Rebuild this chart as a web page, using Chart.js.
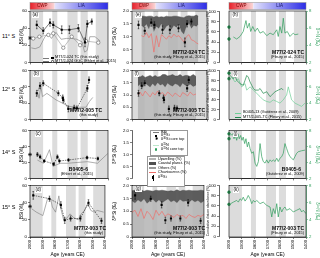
<!DOCTYPE html>
<html>
<head>
<meta charset="utf-8">
<script src="https://cdn.jsdelivr.net/npm/chart.js@4.4.0/dist/chart.umd.min.js"></script>
<style>
body{margin:0;background:#fff}
#fig{position:relative;width:320px;height:258px;overflow:hidden;background:#fff}
.t{position:absolute;white-space:nowrap;font-family:"Liberation Sans",Arial,sans-serif;line-height:1;color:#000}
.st{font-weight:bold;font-size:5px}
.ci{font-size:3.8px}
.tag{font-size:4.5px;background:#fff;padding:0 0.5px}
.row{font-size:5.5px}
.lg{position:absolute;border:0.5px solid #999;background:#fff}
.sw{position:absolute}
</style>
</head>
<body>
<div id="fig"></div>
<script>
// ---- shared ----
const solarMinima = [[1899,2000],[1790,1829],[1634,1712],[1556,1611],[1400,1494]]
const cwpStart = 1810

// ---- 11 S : M77/2-024 ----
const ageTC024 = [1948,1898,1846,1821,1756,1697,1628,1577,1559,1525]
const d30TC024 = [1.46,1.23,1.55,1.46,1.27,1.27,1.33,0.78,1.5,1.59]
const d30TC024Err = [0.15,0.12,0.14,0.12,0.15,0.15,0.14,0.17,0.12,0.1]
const ageGGC024 = [1975,1928,1859,1821,1744,1679,1615,1569,1475]
const d30GGC024 = [0.93,1.0,1.07,1.13,0.57,1.0,0.67,0.83,0.77]
const ageBsi024 = [1990,1960,1925,1885,1860,1835,1800,1760,1720,1680,1640,1600,1580,1560,1540,1500,1460]
const bsi024 = [17,16,18,30,33,28,35,27,28,28,27,24,12,14,30,30,25]
const coreTopD30_024 = [0.95]
const ageAss024 = [1925,1905,1885,1865,1845,1825,1805,1785,1765,1745,1725,1705,1685,1665,1645,1625,1605,1585,1565,1545,1525,1505,1485,1470]
const upw024 = [72,68,74,65,78,60,70,66,75,62,70,73,64,72,68,74,60,55,70,76,66,72,70,74]
const coast024 = [18,22,15,25,12,28,20,22,14,26,20,16,25,18,22,15,28,32,20,15,24,18,22,16]
const chaet024 = [52,50,58,48,56,20,52,30,54,50,45,52,48,55,50,52,46,40,50,54,44,42,38,36]
const ageN024 = [1966,1940,1914,1889,1868,1857,1842,1831,1815,1797,1779,1758,1733,1706,1680,1655,1628,1616,1603,1589,1577,1564,1546,1525,1499,1486,1460]
const d15N024 = [4.97,4.73,5.03,5.61,6.88,6.0,6.58,5.61,6.19,5.61,6.0,5.42,5.61,5.12,5.42,5.23,5.81,5.03,6.19,5.42,7.16,5.42,5.61,5.03,5.42,5.23,5.31]
const coreTopN024 = [6.12,4.73]

// ---- 12 S : M77/2-005 / B0405-13 ----
const ageTC005 = [1948,1923,1898,1782,1748,1744,1705,1660,1640,1559,1546]
const d30TC005 = [1.07,1.38,1.48,1.07,0.88,0.8,0.43,0.48,0.45,1.27,1.62]
const d30TC005Err = [0.12,0.12,0.1,0.1,0.12,0.12,0.12,0.1,0.1,0.12,0.12]
const ageBsi005 = [1953,1940,1930,1917,1904,1870,1800,1701,1640,1569,1543,1517]
const bsi005 = [28,32,26,41,28,32,24,16,15,15,22,27]
const ageAss005 = [1953,1935,1915,1895,1875,1855,1835,1815,1795,1775,1755,1735,1715,1695,1675,1655,1635,1615,1595,1575,1555,1535,1510,1488]
const upw005 = [68,72,65,74,70,66,73,68,75,70,72,66,74,70,68,73,71,66,74,70,68,72,67,70]
const coast005 = [20,15,25,12,18,24,14,22,12,18,20,26,15,20,24,16,18,26,14,20,22,16,25,18]
const chaet005 = [50,56,48,58,52,46,55,50,58,52,55,48,56,52,47,54,50,46,55,52,48,56,50,52]
const ageN005 = [1992,1966,1953,1940,1914,1889,1875,1862,1850,1836,1823,1810,1797,1771,1758,1733,1706,1680,1667,1641,1616,1589,1577]
const d15N005 = [7.4,7.0,7.4,6.8,6.4,6.2,6.8,7.4,7.2,6.6,6.2,5.8,5.6,5.6,5.8,5.2,5.4,4.8,5.0,5.4,5.6,5.8,5.6]
const ageN13 = [1979,1953,1927,1901,1875,1862,1836,1810,1784,1758,1733,1706,1680,1655,1628,1603,1577,1551,1538,1525,1512,1486,1460,1434,1408]
const d15N13 = [7.2,6.6,7.0,6.0,6.4,5.6,6.0,5.6,5.2,4.8,4.4,4.2,4.1,4.4,4.2,4.0,4.4,5.0,6.0,5.2,4.4,4.0,3.8,3.6,4.0]
const coreTopN005 = [7.68,7.0]

// ---- 14 S : B0405-6 ----
const ageB6 = [1943,1922,1891,1818,1789,1774,1704,1561,1478]
const d30B6 = [1.0,0.9,0.73,0.6,0.9,0.73,0.77,0.87,0.83]
const d30B6Err = [0.08,0.08,0.06,0.06,0.08,0.08,0.06,0.06,0.06]
const ageBsiB6 = [1943,1896,1850,1823,1797,1766,1714,1636,1558,1481,1403]
const bsiB6 = [23,19,36,15,17,19,19,20,21,19,31]
const coreTopD30_B6 = [1.0]
const ageN6 = [1987,1971,1961,1951,1940,1930,1920,1909,1899,1889,1878,1868,1857,1847,1836,1823,1810,1797,1784,1771,1758,1745,1733,1719,1706,1694,1680,1667,1655,1641,1628,1616,1603,1589,1577,1564,1551,1538,1525,1512,1499,1486,1473,1460,1434,1408]
const d15N6 = [7.39,7.59,6.98,7.39,6.78,7.59,6.98,7.39,6.78,7.18,6.37,6.98,5.96,6.57,5.76,5.15,5.35,3.92,3.51,4.12,6.37,4.73,4.12,3.92,4.33,3.92,4.33,4.12,4.33,4.12,4.53,4.12,4.53,4.73,5.15,6.37,5.76,5.15,4.73,4.53,4.33,4.73,5.15,5.35,5.47,5.55]
const coreTopN6 = [7.59,6.98]

// ---- 15 S : M77/2-003 ----
const ageTC003 = [1974,1844,1753,1722,1675,1597,1532,1428]
const d30TC003 = [1.62,1.49,1.25,0.65,0.72,0.72,1.33,0.63]
const d30TC003Err = [0.15,0.1,0.12,0.12,0.1,0.1,0.12,0.1]
const ageBsi003 = [1987,1949,1923,1897,1859,1833,1821,1795,1769,1756,1731,1705,1679,1654,1615,1590,1564,1538,1513,1487,1462,1410]
const bsi003 = [33,29,27,25,45,43,35,29,48,35,20,22,27,23,20,27,31,39,31,29,31,29]
const coreTopD30_003 = [1.19]
const ageAss003 = [2000,1975,1950,1925,1900,1875,1850,1825,1800,1775,1750,1725,1700,1675,1650,1625,1600,1575,1550,1525,1500,1475,1450,1425,1400]
const upw003 = [70,66,72,68,74,65,70,73,67,72,66,70,74,68,71,66,73,69,70,67,72,68,71,66,70]
const coast003 = [20,25,18,24,15,26,20,16,24,18,25,20,15,22,18,26,16,22,20,24,18,22,19,25,20]
const chaet003 = [48,52,40,55,36,50,44,34,52,42,50,40,45,42,38,44,40,42,36,44,40,38,42,40,44]
const ageN003 = [1987,1966,1940,1927,1914,1901,1889,1875,1862,1850,1836,1823,1810,1797,1784,1758,1733,1706,1680,1667,1655,1641,1628,1616,1603,1589,1577,1564,1551,1525,1499,1473,1447,1434,1421,1400]
const d15N003 = [5.89,6.07,6.27,6.07,6.46,6.27,6.65,6.19,6.46,6.85,6.46,5.89,6.27,6.07,6.27,5.89,6.07,5.69,5.5,4.34,5.31,4.73,5.89,4.34,5.5,4.92,5.31,5.5,5.12,5.31,4.92,5.12,5.31,4.92,5.12,4.73]
const coreTopN003 = [7.23,5.81]

// ---- layout ----
const FONT = '"Liberation Sans", Arial, sans-serif'
const GREEN = '#2e9e5b'
const colX = [[30,108],[132,207],[229,306]]
const rowY = [[11,63],[70,120],[130,179],[185,237]]
const fig = document.getElementById('fig')

Chart.defaults.font.family = FONT
Chart.defaults.font.size = 4.5
Chart.defaults.color = '#000'

const pts = (xs, ys) => xs.map((x, i) => ({x: x, y: ys[i]}))
const sum = (a, b) => a.map((v, i) => v + b[i])
const at = (year, ys) => ys.map(v => ({x: year, y: v}))

const deco = {
    id: 'deco',
    beforeDatasetsDraw(chart, args, o) {
        if (!o.bands) return
        const ctx = chart.ctx, a = chart.chartArea, x = chart.scales.x
        ctx.save()
        ctx.fillStyle = '#dcdcdc'
        o.bands.forEach(b => {
            const p0 = x.getPixelForValue(b[0]), p1 = x.getPixelForValue(b[1])
            ctx.fillRect(Math.min(p0, p1), a.top, Math.abs(p1 - p0), a.bottom - a.top)
        })
        ctx.restore()
    },
    afterDatasetsDraw(chart, args, o) {
        const ctx = chart.ctx, a = chart.chartArea
        ctx.save()
        chart.data.datasets.forEach((ds, i) => {
            if (!ds.errors) return
            const meta = chart.getDatasetMeta(i)
            const ys = chart.scales[ds.yAxisID || 'y']
            ctx.strokeStyle = ds.errColor || '#000'
            ctx.lineWidth = 0.5
            meta.data.forEach((p, j) => {
                const v = ds.data[j].y, e = ds.errors[j]
                const y0 = ys.getPixelForValue(v - e), y1 = ys.getPixelForValue(v + e)
                ctx.beginPath()
                ctx.moveTo(p.x, y0); ctx.lineTo(p.x, y1)
                ctx.moveTo(p.x - 0.8, y0); ctx.lineTo(p.x + 0.8, y0)
                ctx.moveTo(p.x - 0.8, y1); ctx.lineTo(p.x + 0.8, y1)
                ctx.stroke()
            })
        })
        if (o.frame) {
            ctx.strokeStyle = '#000'
            ctx.lineWidth = 0.6
            ctx.strokeRect(a.left, a.top, a.right - a.left, a.bottom - a.top)
        }
        ctx.restore()
    },
    afterDraw(chart, args, o) {
        if (!o.topBar) return
        const ctx = chart.ctx, a = chart.chartArea
        const xs = chart.scales.x.getPixelForValue(o.topBar)
        const y0 = a.top - 8.4, h = 7
        ctx.save()
        let g = ctx.createLinearGradient(a.left, 0, xs, 0)
        g.addColorStop(0, '#e8202a'); g.addColorStop(1, '#fbd8d8')
        ctx.fillStyle = g
        ctx.fillRect(a.left, y0, xs - a.left, h)
        g = ctx.createLinearGradient(xs, 0, a.right, 0)
        g.addColorStop(0, '#e4e4fc'); g.addColorStop(1, '#2c2ce6')
        ctx.fillStyle = g
        ctx.fillRect(xs, y0, a.right - xs, h)
        ctx.strokeStyle = '#888'; ctx.lineWidth = 0.5
        ctx.strokeRect(a.left, y0, a.right - a.left, h)
        ctx.font = '4.5px ' + FONT
        ctx.textAlign = 'center'; ctx.textBaseline = 'middle'
        ctx.fillStyle = '#7a0000'
        ctx.fillText('CWP', (a.left + xs) / 2, y0 + h / 2)
        ctx.fillStyle = '#141460'
        ctx.fillText('LIA', (xs + a.right) / 2, y0 + h / 2)
        ctx.restore()
    }
}
Chart.register(deco)

function xAxis(bottom, hb) {
    return {
        type: 'linear', min: 1400, max: 2000, reverse: true,
        ticks: {stepSize: 100, display: bottom, maxRotation: 90, minRotation: 90, padding: 1,
            font: {size: 4.2}, callback: v => String(v)},
        grid: {drawOnChartArea: false, tickLength: 2, color: '#000', lineWidth: 0.5},
        border: {color: '#000', width: 0.6},
        title: {display: bottom, text: 'Age (years CE)', font: {size: 5}, padding: {top: 1, bottom: 0}},
        afterFit: s => { s.height = hb }
    }
}

function yAxis(pos, min, max, step, title, w, color, tsize) {
    return {
        position: pos, min: min, max: max,
        ticks: {stepSize: step, padding: 1, color: color || '#000', font: {size: 4.3},
            callback: v => (step < 1 && v !== 0) ? v.toFixed(1) : String(v)},
        grid: {drawOnChartArea: false, tickLength: 2, color: color || '#000', lineWidth: 0.5},
        border: {color: color || '#000', width: 0.6},
        title: {display: true, text: title, color: color || '#000', font: {size: tsize || 4.5}, padding: {top: 0, bottom: 1}},
        afterFit: s => { s.width = w }
    }
}

function hidden(min, max) {
    return {display: false, min: min, max: max}
}

function panel(cx, ry, sp, scales, datasets, deco) {
    const l = cx[0], r = cx[1], t = ry[0], b = ry[1]
    const left = l - sp.wl, top = t - sp.pt
    const w = sp.wl + (r - l) + sp.wr, h = sp.pt + (b - t) + sp.hb
    const cv = document.createElement('canvas')
    cv.width = w; cv.height = h
    cv.style.cssText = 'position:absolute;left:' + left + 'px;top:' + top + 'px;width:' + w + 'px;height:' + h + 'px'
    fig.appendChild(cv)
    return new Chart(cv, {
        type: 'line',
        data: {datasets: datasets},
        options: {
            responsive: false, animation: false, events: [],
            layout: {autoPadding: false, padding: {left: sp.padL || 0, right: sp.padR || 0, top: sp.pt, bottom: sp.padB || 0}},
            scales: scales,
            plugins: {legend: {display: false}, tooltip: {enabled: false}, deco: deco}
        }
    })
}

function squares(ages, vals, errs, dashed) {
    return {data: pts(ages, vals), yAxisID: 'ys', errors: errs, showLine: true,
        borderColor: '#222', borderWidth: 0.6, borderDash: dashed ? [1.5, 1] : [],
        pointStyle: 'rect', pointRadius: 1.5, pointBackgroundColor: '#000', pointBorderColor: '#000', pointBorderWidth: 0}
}
function bsiLine(ages, vals) {
    return {data: pts(ages, vals), yAxisID: 'y', borderColor: '#7a7a7a', borderWidth: 0.6, pointRadius: 0}
}
function coreTop(vals, axis, color) {
    return {data: at(2000, vals), yAxisID: axis, showLine: false, clip: false,
        pointStyle: axis === 'ys' ? 'star' : 'circle', pointRadius: axis === 'ys' ? 2 : 1.4,
        pointBackgroundColor: color, pointBorderColor: color, pointBorderWidth: 0.6}
}
function assemblage(ages, upw, coast, chaet, d30ages, d30, d30err) {
    return [
        {data: pts(d30ages, d30), yAxisID: 'y', errors: d30err, showLine: false,
            pointStyle: 'rect', pointRadius: 1.5, pointBackgroundColor: '#000', pointBorderWidth: 0},
        {data: pts(ages, chaet), yAxisID: 'yc', borderColor: '#ef6f6a', borderWidth: 0.7, pointRadius: 0},
        {data: pts(ages, sum(upw, coast)), yAxisID: 'yc', fill: 3, backgroundColor: 'rgba(80,80,80,0.92)',
            borderColor: '#3c3c3c', borderWidth: 0.4, pointRadius: 0},
        {data: pts(ages, upw), yAxisID: 'yc', fill: 'origin', backgroundColor: 'rgba(180,180,180,0.85)',
            borderColor: '#8a8a8a', borderWidth: 0.3, pointRadius: 0}
    ]
}
function greenLine(ages, vals, color) {
    return {data: pts(ages, vals), yAxisID: 'yn', borderColor: color || GREEN, borderWidth: 0.7, pointRadius: 0}
}

const spC1 = r => ({wl: 11, wr: 3, pt: r === 0 ? 11 : 3, hb: r === 3 ? 21 : 3, padR: 3})
const spC2 = r => ({wl: 20, wr: 3, pt: r === 0 ? 11 : 3, hb: r === 3 ? 21 : 3, padR: 3})
const spC3 = r => ({wl: 4, wr: 14, pt: r === 0 ? 11 : 3, hb: r === 3 ? 21 : 3, padL: 4})

// ---- column 1 : BSi and d30Si ----
const c1Data = [
    [squares(ageTC024, d30TC024, d30TC024Err, false),
     {data: pts(ageGGC024, d30GGC024), yAxisID: 'ys', showLine: true, borderColor: '#9a9a9a', borderWidth: 0.6,
      pointStyle: 'circle', pointRadius: 1.7, pointBackgroundColor: '#fff', pointBorderColor: '#444', pointBorderWidth: 0.5},
     bsiLine(ageBsi024, bsi024), coreTop(coreTopD30_024, 'ys', '#000')],
    [squares(ageTC005, d30TC005, d30TC005Err, true), bsiLine(ageBsi005, bsi005)],
    [squares(ageB6, d30B6, d30B6Err, true), bsiLine(ageBsiB6, bsiB6), coreTop(coreTopD30_B6, 'ys', '#000')],
    [squares(ageTC003, d30TC003, d30TC003Err, true), bsiLine(ageBsi003, bsi003), coreTop(coreTopD30_003, 'ys', '#000')]
]
c1Data.forEach((ds, r) => {
    panel(colX[0], rowY[r], spC1(r),
        {x: xAxis(r === 3, spC1(r).hb), y: yAxis('left', 0, 60, 20, 'BSi (%)', 11), ys: hidden(0, 2)},
        ds, {bands: solarMinima, frame: true, topBar: r === 0 ? cwpStart : null})
})

// ---- column 2 : d30Si and diatom assemblages ----
const c2Data = [
    assemblage(ageAss024, upw024, coast024, chaet024, ageTC024, d30TC024, d30TC024Err),
    assemblage(ageAss005, upw005, coast005, chaet005, ageTC005, d30TC005, d30TC005Err),
    null,
    assemblage(ageAss003, upw003, coast003, chaet003, ageTC003, d30TC003, d30TC003Err)
]
c2Data.forEach((ds, r) => {
    if (ds) {
        panel(colX[1], rowY[r], spC2(r),
            {x: xAxis(r === 3, spC2(r).hb), y: yAxis('left', 0, 2, 0.5, 'δ³⁰Si (‰)', 20), yc: hidden(0, 100)},
            ds, {bands: solarMinima, frame: true, topBar: r === 0 ? cwpStart : null})
        // cumulative abundance axis standing between columns 2 and 3
        panel([219, 221], rowY[r], {wl: 13, wr: 1, pt: 3, hb: 3, padR: 1, padB: 3},
            {x: hidden(1400, 2000), y: yAxis('left', 0, 100, 20, 'Cumulative diatom abundance (%)', 13, '#000', 3.3)},
            [], {})
    } else {
        panel([132, 134], rowY[r], {wl: 20, wr: 1, pt: 3, hb: 3, padR: 1, padB: 3},
            {x: hidden(1400, 2000), y: yAxis('left', 0, 2, 0.5, 'δ³⁰Si (‰)', 20)},
            [], {})
    }
})

// ---- column 3 : d15N ----
const c3Data = [
    [greenLine(ageN024, d15N024), coreTop(coreTopN024, 'yn', GREEN)],
    [greenLine(ageN005, d15N005, '#1f8a4c'), greenLine(ageN13, d15N13, '#6fcf97'), coreTop(coreTopN005, 'yn', GREEN)],
    [greenLine(ageN6, d15N6), coreTop(coreTopN6, 'yn', GREEN)],
    [greenLine(ageN003, d15N003), coreTop(coreTopN003, 'yn', GREEN)]
]
c3Data.forEach((ds, r) => {
    panel(colX[2], rowY[r], spC3(r),
        {x: xAxis(r === 3, spC3(r).hb), yn: yAxis('right', 2, 8, 2, 'δ¹⁵N (‰)', 14, GREEN)},
        ds, {bands: solarMinima, frame: true, topBar: r === 0 ? cwpStart : null})
})

// ---- text ----
function txt(s, x, y, cls, right) {
    const d = document.createElement('div')
    d.className = 't ' + (cls || '')
    d.innerHTML = s
    if (right) d.style.right = (320 - x) + 'px'
    else d.style.left = x + 'px'
    d.style.top = y + 'px'
    fig.appendChild(d)
    return d
}
function box(x, y, w, h, css) {
    const d = document.createElement('div')
    d.className = 'sw'
    d.style.cssText = 'position:absolute;left:' + x + 'px;top:' + y + 'px;width:' + w + 'px;height:' + h + 'px;' + (css || '')
    fig.appendChild(d)
    return d
}

txt('11° S', 2, 34, 'row'); txt('12° S', 2, 87, 'row'); txt('14° S', 2, 150, 'row'); txt('15° S', 2, 205, 'row')

const tags = [['(a)',32,13],['(e)',135,13],['(h)',232,13],['(b)',33,72],['(f)',134,72],['(i)',233,72],
    ['(c)',35,132],['(j)',233,132],['(d)',35,188],['(g)',135,187],['(k)',233,188]]
tags.forEach(t => txt(t[0], t[1], t[2], 'tag'))

const sup = (a, b) => 'δ<sup style="font-size:70%;vertical-align:0.25em">' + a + '</sup>' + b
txt('M77/2-024 TC', 205, 50, 'st', true); txt('(this study, Fleury et al., 2015)', 205, 56, 'ci', true)
txt('M77/2-024 TC', 304, 50, 'st', true); txt('(Fleury et al., 2015)', 304, 56, 'ci', true)
txt('M77/2-005 TC', 102, 108, 'st', true); txt('(this study)', 98, 114, 'ci', true)
txt('M77/2-005 TC', 205, 108, 'st', true); txt('(this study, Fleury et al., 2015)', 205, 114, 'ci', true)
txt('B0405-6', 88, 167, 'st', true); txt('(Ehlert et al., 2015)', 93, 173, 'ci', true)
txt('B0405-6', 301, 167, 'st', true); txt('(Gutiérrez et al., 2009)', 304, 173, 'ci', true)
txt('M77/2-003 TC', 106, 226, 'st', true); txt('(this study)', 103, 232, 'ci', true)
txt('M77/2-003 TC', 205, 226, 'st', true); txt('(this study, Fleury et al., 2015)', 205, 232, 'ci', true)
txt('M77/2-003 TC', 304, 226, 'st', true); txt('(Fleury et al., 2015)', 304, 232, 'ci', true)

// legend in (a)
box(43, 57.5, 6, 0.6, 'background:#7a7a7a')
box(51, 56.6, 2.6, 2.6, 'background:#000')
txt('M77/2-024 TC (this study)', 55, 56, 'ci')
box(43, 61.2, 6, 0, 'border-top:0.6px dashed #777')
box(51, 60, 2.6, 2.6, 'border:0.5px solid #444;border-radius:50%;background:#fff;box-sizing:border-box')
txt('M77/2-024 GGC (Ehlert et al., 2015)', 55, 59.6, 'ci')

// legend in (i)
box(235, 112.5, 6, 0.7, 'background:#6fcf97')
txt('B0405-13 (Gutiérrez et al., 2009)', 243, 111, 'ci')
box(235, 117, 6, 0.7, 'background:#1f8a4c')
txt('M77/2-005-TC (Fleury et al., 2015)', 243, 115.5, 'ci')

// legend boxes in the empty 14 S slot
box(150, 129.5, 36, 24, 'border:0.5px solid #999;background:#fff')
box(153, 132, 6, 0.6, 'background:#7a7a7a'); txt('BSi', 161, 130.5, 'ci')
box(155, 134.8, 2.4, 2.4, 'background:#000'); txt(sup(30, 'Si'), 161, 134.2, 'ci')
txt('✱', 154.8, 137.6, 'ci'); txt(sup(30, 'Si core top'), 161, 137.8, 'ci')
box(153, 145, 6, 1.4, 'background:#bde8cc'); txt(sup(15, 'N'), 161, 143.8, 'ci')
box(155, 148.2, 2.4, 2.4, 'background:' + GREEN + ';border-radius:50%'); txt(sup(15, 'N core top'), 161, 147.6, 'ci')

box(147, 156, 36, 29, 'border:0.5px solid #999;background:#fff')
box(149, 158, 7, 2.4, 'background:#b4b4b4'); txt('Upwelling (%)', 158, 157.8, 'ci')
box(149, 162.4, 7, 2.4, 'background:#505050'); txt('Coastal planct. (%)', 158, 162.2, 'ci')
box(149, 166.8, 7, 2.4, 'background:#fff;border:0.4px solid #999;box-sizing:border-box'); txt('Others (%)', 158, 166.6, 'ci')
box(149, 172, 7, 0.7, 'background:#ef6f6a'); txt('<i>Chaetoceros</i> (%)', 158, 171, 'ci')
box(151.5, 176.3, 2.4, 2.4, 'background:#000'); box(152.5, 174.5, 0.5, 6, 'background:#000')
txt(sup(30, 'Si'), 158, 175.6, 'ci')
</script>
</body>
</html>
